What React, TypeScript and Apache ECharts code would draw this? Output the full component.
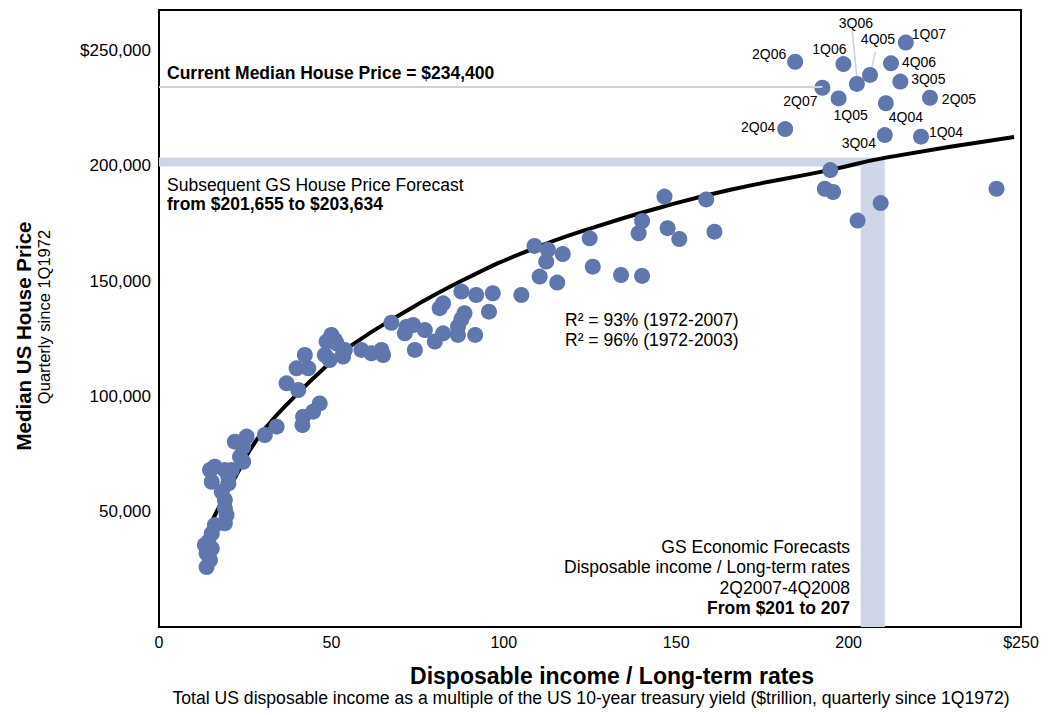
import React, { useEffect, useRef } from "react";
import * as echarts from "echarts";

// ---- data ----
// Unlabelled quarters: disposable income / long-term rates ($trn) vs median house price ($)
const incomeMultiple = [
  37.0, 40.4, 46.6, 44.7, 41.8, 41.6, 34.1, 30.7, 25.4, 22.0, 24.4, 23.5, 24.4, 21.1, 16.2, 14.8, 19.1, 20.1,
  15.3, 20.1, 18.2, 19.1, 19.1, 19.6, 19.1, 16.2, 15.3, 14.3, 13.3, 15.3, 13.8, 14.8, 13.8,
  50.0, 48.6, 51.5, 53.4, 48.1, 49.5, 42.3, 39.9, 43.3, 51.0, 53.9, 53.4, 58.7, 61.6, 64.5, 65.0,
  67.4, 71.8, 71.3, 73.7, 74.2, 77.1, 80.0, 82.4, 81.4, 82.4, 87.7, 88.6, 87.7, 86.7, 86.7, 91.7,
  92.0, 96.8, 95.7, 105.1, 108.9, 112.8, 117.1, 112.3, 110.4, 115.5, 124.9, 125.8, 134.0, 140.1,
  140.1, 139.1, 146.6, 147.5, 150.9, 158.7, 161.1, 194.7, 193.1, 195.5, 209.3, 202.6, 242.9,
];
const housePrice = [
  105700, 102800, 97000, 93400, 91200, 87600, 86900, 83300, 82600, 80400, 78200, 73900, 71700, 68100, 69500, 68100, 68100, 65200,
  63000, 62300, 58700, 55100, 51500, 48600, 45000, 44200, 40600, 37000, 35600, 34100, 32000, 29100, 26000,
  126700, 123800, 123100, 118700, 118000, 115800, 118000, 112200, 112200, 124500, 120200, 117300, 120200, 118700, 120200, 118000,
  132000, 130300, 127400, 131000, 120200, 128800, 123800, 127400, 138300, 140400, 145500, 136100, 133500, 130300, 126700, 126700,
  144000, 144800, 136800, 144000, 165300, 163600, 161800, 158500, 152000, 149400, 168600, 156300, 152700, 152300,
  176100, 170800, 186700, 173000, 168300, 185500, 171500, 198200, 190100, 188700, 183900, 176300, 190100,
];

// Labelled quarters (2004-2007)
const labelledQuarters = ["2Q04", "3Q04", "1Q04", "4Q04", "1Q05", "2Q05", "3Q05", "4Q05", "1Q06", "2Q06", "3Q06", "4Q06", "1Q07", "2Q07"];
const labelledIncome = [181.6, 210.5, 221.0, 210.8, 197.1, 223.6, 215.0, 206.2, 198.5, 184.5, 202.4, 212.3, 216.6, 192.4];
const labelledPrice = [216000, 213400, 212700, 227200, 229300, 229600, 236600, 239500, 244200, 245200, 235600, 244500, 253500, 233900];

// Fitted curve, points
const fitIncome = [14.0, 16.7, 23.0, 26.4, 31.2, 38.9, 48.1, 55.3, 68.9, 88.2, 107.5, 126.8, 146.1, 165.4, 194.4, 210.8, 248.0];
const fitPrice = [41000, 50000, 67400, 76800, 86900, 99300, 112600, 121600, 134600, 150500, 163500, 173700, 182300, 189600, 198200, 203600, 212600];

// Annotations
const currentMedianPrice = 234400;
const forecastPriceBand = [199800, 203700];
const forecastIncomeBand = [203.5, 210.5];

const xTicks = [0, 50, 100, 150, 200, 250];
const yTicks = [50000, 100000, 150000, 200000, 250000];

// ---- styles ----
const FONT = "'Liberation Sans', Arial, Helvetica, sans-serif";
const DOT = "#6077AE";
const BAND = "#CDD5E6";
const THIN = "#C9D1E3";

// label offsets (px) from dot centre, layout only
const labelOffsets: Record<string, [number, number]> = {
  "2Q06": [-26, -8],
  "1Q06": [-14, -15],
  "3Q06": [-1, -61],
  "4Q05": [8, -36],
  "1Q07": [23, -9],
  "4Q06": [28, -1],
  "3Q05": [28, -3],
  "2Q05": [29, 1],
  "2Q07": [-22, 13],
  "1Q05": [12, 17],
  "4Q04": [20, 14],
  "2Q04": [-27, -2],
  "3Q04": [-26, 8],
  "1Q04": [25, -5],
};

function txt(x: number, y: number, text: string, opts: any = {}) {
  return {
    type: "text",
    x,
    y,
    rotation: opts.rotation || 0,
    silent: true,
    z: 10,
    style: {
      text,
      fill: "#000",
      font: `${opts.bold ? "bold " : ""}${opts.size || 17.5}px ${FONT}`,
      textAlign: opts.align || "left",
      textVerticalAlign: "middle",
    },
  };
}

export default function App() {
  const ref = useRef<HTMLDivElement>(null);
  useEffect(() => {
    const chart = echarts.init(ref.current!, null, { renderer: "svg" });

    const plain = incomeMultiple.map((x, i) => [x, housePrice[i]]);
    const labelled = labelledQuarters.map((q, i) => ({
      value: [labelledIncome[i], labelledPrice[i]],
      label: {
        show: true,
        position: "inside",
        offset: labelOffsets[q],
        formatter: q,
        color: "#000",
        fontSize: 14,
        fontFamily: FONT,
        textBorderWidth: 0,
      },
    }));
    const endX = labelledIncome[labelledQuarters.indexOf("2Q07")];

    const texts: any[] = [
      txt(167, 73, "Current Median House Price = $234,400", { bold: true }),
      txt(167, 185, "Subsequent GS House Price Forecast"),
      txt(167, 204, "from $201,655 to $203,634", { bold: true }),
      txt(565, 320, "R² = 93% (1972-2007)"),
      txt(565, 340, "R² = 96% (1972-2003)"),
      txt(850, 547, "GS Economic Forecasts", { align: "right" }),
      txt(850, 567, "Disposable income / Long-term rates", { align: "right" }),
      txt(850, 588, "2Q2007-4Q2008", { align: "right" }),
      txt(850, 608, "From $201 to 207", { align: "right", bold: true }),
      txt(23, 336, "Median US House Price", { bold: true, size: 20.5, rotation: Math.PI / 2, align: "center" }),
      txt(44, 317, "Quarterly since 1Q1972", { size: 16.5, rotation: Math.PI / 2, align: "center" }),
      txt(612, 676, "Disposable income / Long-term rates", { bold: true, size: 23, align: "center" }),
      txt(591, 698, "Total US disposable income as a multiple of the US 10-year treasury yield ($trillion, quarterly since 1Q1972)", { size: 17.6, align: "center" }),
    ];

    chart.setOption({
      animation: false,
      backgroundColor: "#fff",
      grid: { left: 159, right: 36, top: 10, bottom: 88, show: true, borderColor: "#000", borderWidth: 2, backgroundColor: "transparent" },
      xAxis: {
        type: "value",
        min: 0,
        max: 250,
        interval: 50,
        axisLine: { show: false },
        axisTick: { show: false },
        splitLine: { show: false },
        axisLabel: {
          margin: 7,
          fontSize: 16,
          fontFamily: FONT,
          color: "#000",
          formatter: (v: number) => (xTicks.includes(v) ? (v === 250 ? "$250" : String(v)) : ""),
        },
      },
      yAxis: {
        type: "value",
        min: 0,
        max: 267650,
        interval: 50000,
        axisLine: { show: false },
        axisTick: { show: false },
        splitLine: { show: false },
        axisLabel: {
          margin: 8,
          fontSize: 17,
          fontFamily: FONT,
          color: "#000",
          formatter: (v: number) =>
            yTicks.includes(v) ? (v === 250000 ? "$250,000" : v.toLocaleString("en-US")) : "",
        },
      },
      series: [
        {
          type: "scatter",
          data: [],
          z: 1,
          silent: true,
          markArea: {
            silent: true,
            itemStyle: { color: BAND },
            data: [
              [{ coord: [0, forecastPriceBand[0]] }, { coord: [forecastIncomeBand[1], forecastPriceBand[1]] }],
              [{ coord: [forecastIncomeBand[0], 0] }, { coord: [forecastIncomeBand[1], forecastPriceBand[0]] }],
            ],
          },
          markLine: {
            silent: true,
            symbol: "none",
            label: { show: false },
            lineStyle: { color: THIN, width: 2, type: "solid" },
            data: [[{ coord: [0, currentMedianPrice] }, { coord: [endX, currentMedianPrice] }]],
          },
        },
        {
          type: "line",
          data: fitIncome.map((x, i) => [x, fitPrice[i]]),
          smooth: true,
          showSymbol: false,
          silent: true,
          z: 2,
          lineStyle: { color: "#000", width: 4 },
        },
        {
          type: "scatter",
          data: [...plain, ...labelled],
          symbolSize: 16,
          silent: true,
          z: 3,
          itemStyle: { color: DOT, opacity: 1 },
        },
      ],
      graphic: texts,
    });

    const leaders: any[] = [];
    const addLeader = (q: string, a: [number, number], b: [number, number]) => {
      const i = labelledQuarters.indexOf(q);
      const p = chart.convertToPixel({ gridIndex: 0 }, [labelledIncome[i], labelledPrice[i]]) as number[];
      leaders.push({
        type: "line",
        silent: true,
        z: 1,
        shape: { x1: p[0] + a[0], y1: p[1] + a[1], x2: p[0] + b[0], y2: p[1] + b[1] },
        style: { stroke: THIN, lineWidth: 1.5 },
      });
    };
    addLeader("3Q06", [-4.5, -52], [0, -7]);
    addLeader("4Q05", [5.3, -23], [2, -8]);
    chart.setOption({ graphic: [...texts, ...leaders] });

    return () => chart.dispose();
  }, []);
  return (
    <div
      ref={ref}
      style={{ position: "fixed", left: 0, top: 0, width: 1057, height: 715, background: "#fff" }}
    />
  );
}
